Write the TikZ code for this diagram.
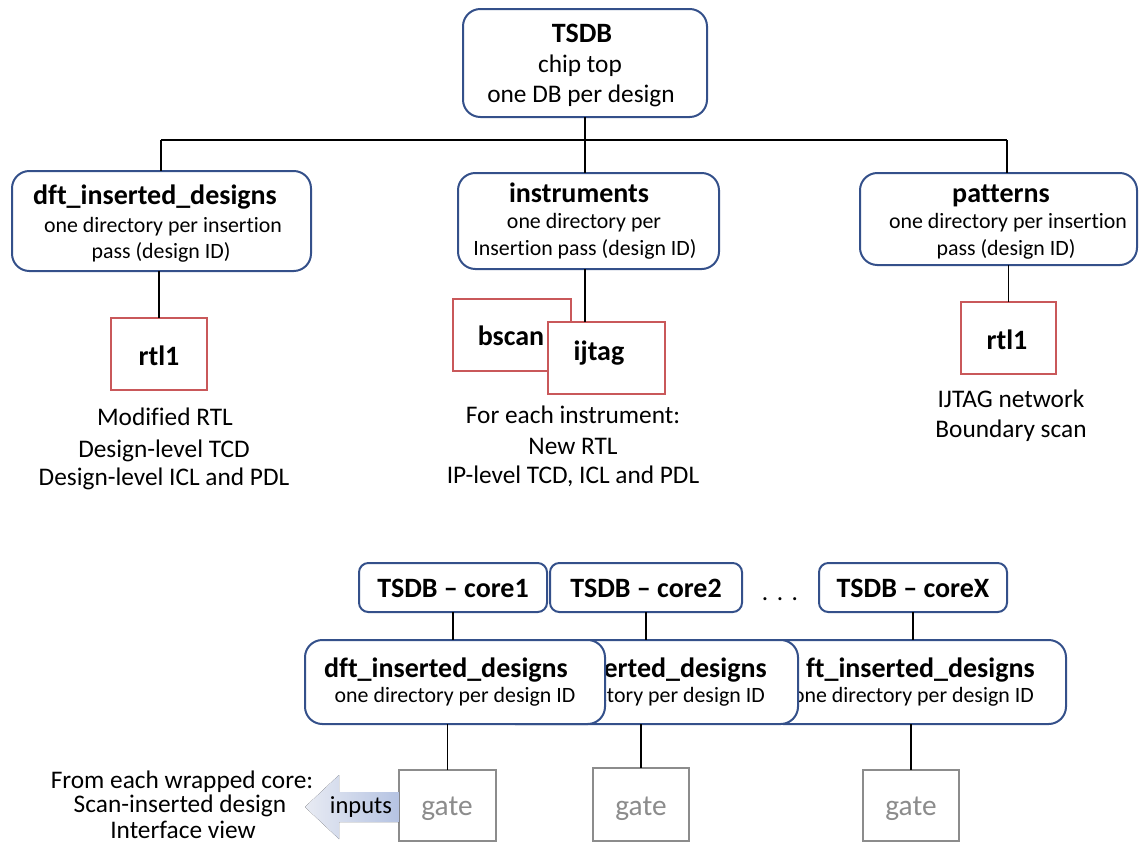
\documentclass[tikz,border=0pt]{standalone}
\usepackage{fontspec}
\setmainfont{Carlito}[Ligatures=NoCommon]
\definecolor{navy}{HTML}{34508A}
\definecolor{boxred}{HTML}{C9585A}
\definecolor{gatetext}{HTML}{8C8C8C}
\definecolor{arrowlight}{HTML}{E8EBF3}
\definecolor{arrowdark}{HTML}{B5C3E2}
\begin{document}
\begin{tikzpicture}[x=0.75pt,y=-0.75pt,
  navybox/.style={draw=navy, line width=1.5pt, rounded corners=13pt, fill=white, inner sep=0pt, outer sep=0pt},
  corebox/.style={navybox, rounded corners=7pt},
  redbox/.style={draw=boxred, line width=1.2pt, fill=white, inner sep=0pt, outer sep=0pt},
  graybox/.style={draw=black!45, line width=1.1pt, fill=white, inner sep=0pt, outer sep=0pt},
  link/.style={draw=black, line width=1.1pt},
  ttl/.style={anchor=base, inner sep=0pt, font=\fontsize{21}{25}\selectfont\bfseries},
  subt/.style={anchor=base, inner sep=0pt, font=\fontsize{16.4}{20}\selectfont},
  lbl/.style={anchor=base, inner sep=0pt, font=\fontsize{19}{23}\selectfont},
  gatelbl/.style={anchor=base, inner sep=0pt, text=gatetext, font=\fontsize{22}{26}\selectfont},
]
\useasboundingbox (0,0) rectangle (1140,843);

% ---- top database ----
\node[navybox, minimum width=244*0.75pt, minimum height=108*0.75pt] (top) at (585,63) {};
\node[ttl] (top-t) at (582,42) {TSDB};
\node[lbl] (top-a) at (580,72) {chip top};
\node[lbl] (top-b) at (581,102) {one DB per design};

% ---- second level ----
\node[navybox, minimum width=299*0.75pt, minimum height=100*0.75pt] (dft) at (161.5,221) {};
\node[ttl] (dft-t) at (155,204) {dft\_inserted\_designs};
\node[subt] (dft-a) at (163,232) {one directory per insertion};
\node[subt] (dft-b) at (161,258) {pass (design ID)};

\node[navybox, minimum width=261*0.75pt, minimum height=96*0.75pt] (instr) at (588.5,221) {};
\node[ttl] (instr-t) at (579,202) {instruments};
\node[subt] (instr-a) at (584,228) {one directory per};
\node[subt] (instr-b) at (585,255) {Insertion pass (design ID)};

\node[navybox, minimum width=277*0.75pt, minimum height=92*0.75pt] (pat) at (998.5,219) {};
\node[ttl] (pat-t) at (1001,202) {patterns};
\node[subt] (pat-a) at (1008,228) {one directory per insertion};
\node[subt] (pat-b) at (1006,255) {pass (design ID)};

% ---- third level ----
\node[redbox, minimum width=96*0.75pt, minimum height=72*0.75pt] (rtlA) at (159,354) {};
\node[ttl] (rtlA-t) at (159,365) {rtl1};
\node[lbl] (rtlA-a) at (165,425) {Modified RTL};
\node[lbl] (rtlA-b) at (164,457) {Design-level TCD};
\node[lbl] (rtlA-c) at (164,485) {Design-level ICL and PDL};

\node[redbox, minimum width=118*0.75pt, minimum height=72*0.75pt] (bscan) at (512,335) {};
\node[ttl] (bscan-t) at (511,345) {bscan};
\node[redbox, minimum width=117*0.75pt, minimum height=72*0.75pt] (ijtag) at (606.5,358) {};
\node[ttl] (ijtag-t) at (599,360) {ijtag};
\node[lbl] (ins-a) at (573,423) {For each instrument:};
\node[lbl] (ins-b) at (573,454) {New RTL};
\node[lbl] (ins-c) at (573,483) {IP-level TCD, ICL and PDL};

\node[redbox, minimum width=95*0.75pt, minimum height=72*0.75pt] (rtlB) at (1008.5,338) {};
\node[ttl] (rtlB-t) at (1007,349) {rtl1};
\node[lbl] (rtlB-a) at (1011,407) {IJTAG network};
\node[lbl] (rtlB-b) at (1011,437) {Boundary scan};

% ---- tree connectors ----
\coordinate (busL) at (161,140);
\coordinate (busM) at (585,140);
\coordinate (busR) at (1007,140);
\draw[link] (top.south) -- (busM);
\draw[link] (busL) -- (busR);
\draw[link] (busL) -- (busL |- dft.north);
\draw[link] (busM) -- (busM |- instr.north);
\draw[link] (busR) -- (busR |- pat.north);
\draw[link] (rtlA.north |- dft.south) -- (rtlA.north);
\draw[link] (busM |- instr.south) -- (busM |- ijtag.north);
\draw[link] (rtlB.north |- pat.south) -- (rtlB.north);

% ---- core databases ----
\node[corebox, minimum width=188*0.75pt, minimum height=49*0.75pt] (core1) at (453,587.5) {};
\node[ttl] (core1-t) at (453,597) {TSDB – core1};
\node[corebox, minimum width=192*0.75pt, minimum height=49*0.75pt] (core2) at (646,587.5) {};
\node[ttl] (core2-t) at (646,597) {TSDB – core2};
\node[lbl] (dots) at (780,600) {.\,\,.\,\,.};
\node[corebox, minimum width=188*0.75pt, minimum height=49*0.75pt] (coreX) at (913,587.5) {};
\node[ttl] (coreX-t) at (913,597) {TSDB – coreX};

% stacked per-core directories, rightmost underneath; the covered
% part of each label is left out
\node[navybox, minimum width=300*0.75pt, minimum height=84*0.75pt] (dft3) at (916,682) {};
\node[ttl, anchor=base east] (dft3-t) at (1035,677) {ft\_inserted\_designs};
\node[subt, anchor=base east] (dft3-a) at (1034,702) {one directory per design ID};
\node[navybox, minimum width=300*0.75pt, minimum height=84*0.75pt] (dft2) at (648,682) {};
\node[ttl, anchor=base east] (dft2-t) at (767,677) {erted\_designs};
\node[subt, anchor=base east] (dft2-a) at (765,702) {ctory per design ID};
\node[navybox, minimum width=300*0.75pt, minimum height=84*0.75pt] (dft1) at (455,682) {};
\node[ttl] (dft1-t) at (446,677) {dft\_inserted\_designs};
\node[subt] (dft1-a) at (455,702) {one directory per design ID};

% gate-level views
\node[graybox, minimum width=97*0.75pt, minimum height=71*0.75pt] (gate1) at (447.5,805.5) {};
\node[gatelbl] (gate1-t) at (447,815) {gate};
\node[graybox, minimum width=96*0.75pt, minimum height=73*0.75pt] (gate2) at (641,804.5) {};
\node[gatelbl] (gate2-t) at (641,815) {gate};
\node[graybox, minimum width=96*0.75pt, minimum height=71*0.75pt] (gate3) at (911,805.5) {};
\node[gatelbl] (gate3-t) at (911,815) {gate};

\draw[link] (core1.south) -- (core1.south |- dft1.north);
\draw[link] (core2.south) -- (core2.south |- dft2.north);
\draw[link] (coreX.south) -- (coreX.south |- dft3.north);
\draw[link] (gate1.north |- dft1.south) -- (gate1.north);
\draw[link] (gate2.north |- dft2.south) -- (gate2.north);
\draw[link] (gate3.north |- dft3.south) -- (gate3.north);

% inputs arrow
\fill[left color=arrowlight, right color=arrowdark]
  (305,807) -- (339,775) -- (339,792) -- (gate1.west |- 0,792) -- (gate1.west |- 0,822)
  -- (339,822) -- (339,839) -- cycle;
\node[lbl, font=\fontsize{18.4}{22}\selectfont] (inputs) at (361,813) {inputs};

\node[lbl] (wr-a) at (182,788) {From each wrapped core:};
\node[lbl] (wr-b) at (180,812) {Scan-inserted design};
\node[lbl] (wr-c) at (183,838) {Interface view};
\end{tikzpicture}
\end{document}
